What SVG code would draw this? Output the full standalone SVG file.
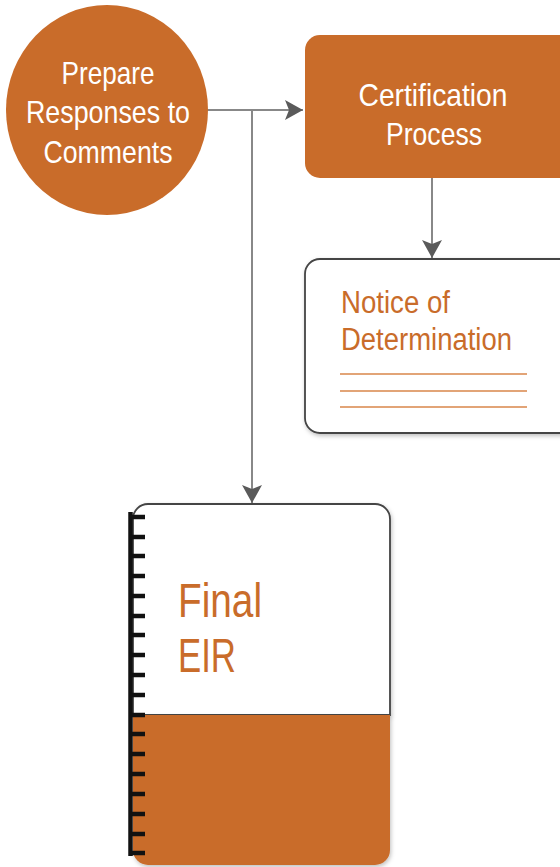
<svg xmlns="http://www.w3.org/2000/svg" width="560" height="867" viewBox="0 0 560 867">
<defs>
<marker id="arr" markerWidth="18" markerHeight="20" refX="18" refY="10" orient="auto" markerUnits="userSpaceOnUse" viewBox="0 0 18 20">
<path d="M0,0 L18,10 L0,20 L4,10 Z" fill="#5a5a5a"/>
</marker>
<filter id="sh" x="-10%" y="-10%" width="120%" height="120%">
<feDropShadow dx="1" dy="2" stdDeviation="2" flood-color="#000" flood-opacity="0.25"/>
</filter>
</defs>
<style>
.wt{font-family:"Liberation Sans",Arial,sans-serif;fill:#fff;text-anchor:middle;font-size:32px}
.ot{font-family:"Liberation Sans",Arial,sans-serif;fill:#C96C2A}
.conn{stroke:#888;stroke-width:2;fill:none}
.rule{stroke:#D9864A;stroke-width:1.5}
.tick{stroke:#111;stroke-width:4.5;stroke-linecap:butt}
</style>
<g id="connectors">
<path class="conn" d="M207,110 H303" marker-end="url(#arr)"/>
<path class="conn" d="M252,110 V503" marker-end="url(#arr)"/>
<path class="conn" d="M432,178 V258" marker-end="url(#arr)"/>
</g>
<g id="prepare">
<ellipse cx="107" cy="110" rx="101" ry="105" fill="#C96C2A"/>
<text class="wt" x="108" y="84" textLength="93" lengthAdjust="spacingAndGlyphs">Prepare</text>
<text class="wt" x="108" y="123" textLength="164" lengthAdjust="spacingAndGlyphs">Responses to</text>
<text class="wt" x="108" y="163" textLength="129" lengthAdjust="spacingAndGlyphs">Comments</text>
</g>
<g id="certification">
<rect x="305" y="35" width="270" height="143" rx="15" fill="#C96C2A"/>
<text class="wt" x="433" y="106" textLength="149" lengthAdjust="spacingAndGlyphs">Certification</text>
<text class="wt" x="434" y="145" textLength="96" lengthAdjust="spacingAndGlyphs">Process</text>
</g>
<g id="notice">
<rect x="305" y="259" width="270" height="174" rx="15" fill="#fff" stroke="#444" stroke-width="1.8" filter="url(#sh)"/>
<text class="ot" x="341" y="313" font-size="31" textLength="109" lengthAdjust="spacingAndGlyphs">Notice of</text>
<text class="ot" x="341" y="350" font-size="31" textLength="171" lengthAdjust="spacingAndGlyphs">Determination</text>
<line class="rule" x1="340" y1="374" x2="527" y2="374"/>
<line class="rule" x1="340" y1="391" x2="527" y2="391"/>
<line class="rule" x1="340" y1="407" x2="527" y2="407"/>
</g>
<g id="final-eir">
<path d="M148,504 H375 A15,15 0 0 1 390,519 V715 H133 V519 A15,15 0 0 1 148,504 Z" fill="#fff" stroke="#444" stroke-width="1.8" filter="url(#sh)"/>
<path d="M133,715 H390 V850 A15,15 0 0 1 375,865 H148 A15,15 0 0 1 133,850 Z" fill="#C96C2A" filter="url(#sh)"/>
<text class="ot" x="178" y="617" font-size="49" textLength="84" lengthAdjust="spacingAndGlyphs">Final</text>
<text class="ot" x="178" y="672" font-size="49" textLength="58" lengthAdjust="spacingAndGlyphs">EIR</text>
<line x1="130.5" y1="512" x2="130.5" y2="856" stroke="#111" stroke-width="4.5"/>
<g id="binding">
<line class="tick" x1="130" y1="517" x2="145" y2="517"/>
<line class="tick" x1="130" y1="537" x2="145" y2="537"/>
<line class="tick" x1="130" y1="556" x2="145" y2="556"/>
<line class="tick" x1="130" y1="576" x2="145" y2="576"/>
<line class="tick" x1="130" y1="596" x2="145" y2="596"/>
<line class="tick" x1="130" y1="616" x2="145" y2="616"/>
<line class="tick" x1="130" y1="635" x2="145" y2="635"/>
<line class="tick" x1="130" y1="655" x2="145" y2="655"/>
<line class="tick" x1="130" y1="675" x2="145" y2="675"/>
<line class="tick" x1="130" y1="695" x2="145" y2="695"/>
<line class="tick" x1="130" y1="715" x2="145" y2="715"/>
<line class="tick" x1="130" y1="734" x2="145" y2="734"/>
<line class="tick" x1="130" y1="754" x2="145" y2="754"/>
<line class="tick" x1="130" y1="774" x2="145" y2="774"/>
<line class="tick" x1="130" y1="794" x2="145" y2="794"/>
<line class="tick" x1="130" y1="814" x2="145" y2="814"/>
<line class="tick" x1="130" y1="834" x2="145" y2="834"/>
<line class="tick" x1="130" y1="853" x2="145" y2="853"/>
</g>
</g>
</svg>
